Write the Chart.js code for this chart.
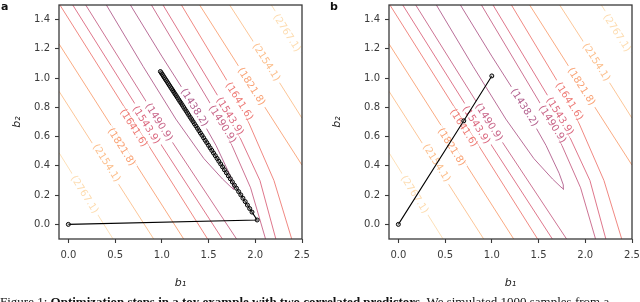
<!DOCTYPE html>
<html><head><meta charset="utf-8">
<script src="https://cdn.jsdelivr.net/npm/chart.js@4.4.0/dist/chart.umd.min.js"></script>
<style>
html,body{margin:0;padding:0;background:#fff;width:640px;height:302px;overflow:hidden;position:relative}
canvas{position:absolute;top:0}
#c1{left:0}
#c2{left:320px}
.pl{position:absolute;font:bold 11px "DejaVu Sans";color:#111}
#cap{position:absolute;left:0;top:294px;white-space:nowrap;font:13px "Liberation Serif";color:#111;line-height:15px}
</style></head><body>
<canvas id="c1" width="320" height="302"></canvas>
<canvas id="c2" width="320" height="302"></canvas>
<div class="pl" style="left:1px;top:0px">a</div>
<div class="pl" style="left:330px;top:0px">b</div>
<div id="cap">Figure 1: <b>Optimization steps in a toy example with two correlated predictors.</b> We simulated 1000 samples from a</div>
<script>
// ---------- data ----------
const xTicks = [0.0, 0.5, 1.0, 1.5, 2.0, 2.5];
const yTicks = [0.0, 0.2, 0.4, 0.6, 0.8, 1.0, 1.2, 1.4];
const levels = ['1438.2', '1490.9', '1543.9', '1641.6', '1821.8', '2154.1', '2767.1'];

// contour polylines, [b1, b2]
const c1438 = [[0.407,1.5],[0.80,1.08],[1.15,0.72],[1.45,0.45],[1.65,0.31],[1.74,0.255],[1.77,0.24],[1.765,0.27],[1.72,0.35],[1.58,0.54],[1.35,0.80],[1.0,1.15],[0.664,1.5]];
const c1490L = [[0.186,1.5],[0.97,0.70],[1.80,-0.1]];
const c1490R = [[0.889,1.5],[1.65,0.686],[1.95,0.25],[2.11,-0.1]];
const c1543L = [[0.047,1.5],[0.835,0.70],[1.648,-0.1]];
const c1543R = [[1.013,1.5],[1.73,0.74],[2.05,0.30],[2.22,-0.1]];
const c1641L = [[-0.09,1.5],[1.49,-0.1]];
const c1641R = [[1.21,1.5],[1.83,0.842],[2.20,0.30],[2.39,-0.1]];
const c1821L = [[-0.1,1.234],[1.234,-0.1]];
const c1821R = [[1.405,1.5],[1.96,0.943],[2.5,0.405]];
const c2154L = [[-0.1,0.91],[0.913,-0.1]];
const c2154R = [[1.726,1.5],[2.12,1.11],[2.5,0.726]];
const c2767L = [[-0.1,0.49],[0.478,-0.1]];
const c2767R = [[2.172,1.5],[2.5,1.17]];

// contour label anchors [level, b1, b2]
const contourLabels = [
  ['2767.1',2.34,1.31],['2154.1',2.12,1.11],['1821.8',1.96,0.943],['1641.6',1.83,0.842],
  ['1543.9',1.73,0.74],['1490.9',1.65,0.686],['1438.2',1.35,0.80],['1490.9',0.97,0.70],
  ['1543.9',0.835,0.68],['1641.6',0.70,0.66],['1821.8',0.57,0.53],['2154.1',0.41,0.42],['2767.1',0.175,0.205]
];

// optimisation paths
const pathA_b1 = [0.0,2.020,1.965,1.940,1.916,1.892,1.868,1.845,1.822,1.799,1.777,1.755,1.733,1.712,1.691,1.670,1.650,1.630,1.610,1.591,1.572,1.553,1.535,1.517,1.499,1.481,1.464,1.447,1.430,1.413,1.397,1.381,1.365,1.349,1.334,1.319,1.304,1.289,1.275,1.261,1.247,1.233,1.219,1.206,1.193,1.180,1.167,1.154,1.142,1.130,1.118,1.106,1.094,1.082,1.071,1.060,1.049,1.038,1.027,1.016,1.005,0.995,0.985];
const pathA_b2 = [0.0,0.030,0.084,0.108,0.132,0.156,0.179,0.202,0.224,0.247,0.268,0.290,0.312,0.332,0.353,0.373,0.393,0.413,0.432,0.451,0.470,0.488,0.506,0.523,0.541,0.559,0.575,0.592,0.609,0.625,0.641,0.657,0.673,0.688,0.703,0.718,0.732,0.747,0.761,0.775,0.788,0.802,0.816,0.829,0.841,0.854,0.867,0.880,0.891,0.903,0.915,0.927,0.938,0.950,0.961,0.972,0.983,0.993,1.004,1.015,1.026,1.036,1.045];
const pathB_b1 = [0.0, 0.70, 1.00];
const pathB_b2 = [0.0, 0.708, 1.015];

// ---------- style ----------
const levelColor = {
  '1438.2':'#b15d8c','1490.9':'#c76387','1543.9':'#db677e','1641.6':'#ee7a74',
  '1821.8':'#f9a274','2154.1':'#fcbf8c','2767.1':'#fddcb0'
};
const contourSets = [
  ['1438.2',c1438],['1490.9',c1490L],['1490.9',c1490R],['1543.9',c1543L],['1543.9',c1543R],
  ['1641.6',c1641L],['1641.6',c1641R],['1821.8',c1821L],['1821.8',c1821R],
  ['2154.1',c2154L],['2154.1',c2154R],['2767.1',c2767L],['2767.1',c2767R]
];
const AX = '#3a3a3a';
const tickFont = {family:'DejaVu Sans', size:10};

const framePlugin = {
  id:'frame',
  afterDraw(chart){
    const {ctx, chartArea:a} = chart;
    ctx.save(); ctx.strokeStyle = AX; ctx.lineWidth = 1.3;
    ctx.strokeRect(a.left, a.top, a.right-a.left, a.bottom-a.top);
    ctx.restore();
  }
};
const labelPlugin = {
  id:'clabels',
  afterDatasetDraw(chart, args){
    if (args.index !== 1) return;
    const {ctx, chartArea:a, scales:{x, y}} = chart;
    const ang = Math.atan2(y.getPixelForValue(0)-y.getPixelForValue(1), x.getPixelForValue(1)-x.getPixelForValue(0));
    ctx.save();
    ctx.beginPath(); ctx.rect(a.left, a.top, a.right-a.left, a.bottom-a.top); ctx.clip();
    ctx.font = '10px "DejaVu Sans"';
    ctx.textAlign = 'center'; ctx.textBaseline = 'middle';
    for (const [lv, lx, ly] of contourLabels){
      const t = '(' + lv + ')';
      const px = x.getPixelForValue(lx), py = y.getPixelForValue(ly);
      const w = ctx.measureText(t).width;
      ctx.save();
      ctx.translate(px, py); ctx.rotate(ang);
      ctx.fillStyle = '#fff'; ctx.fillRect(-w/2-3, -3, w+6, 6);
      ctx.fillStyle = levelColor[lv]; ctx.fillText(t, 0, 0.5);
      ctx.restore();
    }
    ctx.restore();
  }
};

function makeChart(id, pb1, pb2, yWidth, padRight){
  const datasets = [{
    data: pb1.map((v,i)=>({x:v, y:pb2[i]})),
    showLine:true, borderColor:'#000', borderWidth:1.1,
    pointRadius:2, pointBorderWidth:1, pointBorderColor:'#000', pointBackgroundColor:'rgba(150,150,150,0.35)'
  }];
  for (const [lv, pts] of contourSets){
    datasets.push({data: pts.map(p=>({x:p[0], y:p[1]})), showLine:true, borderColor:levelColor[lv], borderWidth:0.9, pointRadius:0, tension:0});
  }
  const killPad = s => { s.paddingTop = 0; s.paddingBottom = 0; s.paddingLeft = 0; s.paddingRight = 0; };
  return new Chart(document.getElementById(id), {
    type:'scatter',
    data:{datasets},
    plugins:[framePlugin, labelPlugin],
    options:{
      responsive:false, animation:false, devicePixelRatio:1,
      layout:{padding:{top:3, right:padRight, left:0, bottom:0}},
      plugins:{legend:{display:false}, tooltip:{enabled:false}},
      scales:{
        x:{type:'linear', min:-0.1, max:2.5,
          afterBuildTicks:s=>{s.ticks = xTicks.map(v=>({value:v}));},
          afterFit:s=>{s.height = 63; killPad(s);},
          ticks:{font:tickFont, color:AX, padding:6, maxRotation:0, callback:v=>v.toFixed(1)},
          grid:{drawOnChartArea:false, drawTicks:true, tickLength:4, tickColor:AX, tickWidth:1.1},
          border:{display:false},
          title:{display:true, text:'b\u2081', font:{family:'DejaVu Sans', size:11, style:'italic'}, color:'#222', padding:{top:0,bottom:12}}
        },
        y:{type:'linear', min:-0.1, max:1.5,
          afterBuildTicks:s=>{s.ticks = yTicks.map(v=>({value:v}));},
          afterFit:s=>{s.width = yWidth; killPad(s);},
          ticks:{font:tickFont, color:AX, padding:5, callback:v=>v.toFixed(1)},
          grid:{drawOnChartArea:false, drawTicks:true, tickLength:4, tickColor:AX, tickWidth:1.1},
          border:{display:false},
          title:{display:true, text:'b\u2082', font:{family:'DejaVu Sans', size:11, style:'italic'}, color:'#222', padding:{top:11,bottom:0}}
        }
      }
    }
  });
}
makeChart('c1', pathA_b1, pathA_b2, 59, 18);
makeChart('c2', pathB_b1, pathB_b2, 69, 8);
</script>
</body></html>
